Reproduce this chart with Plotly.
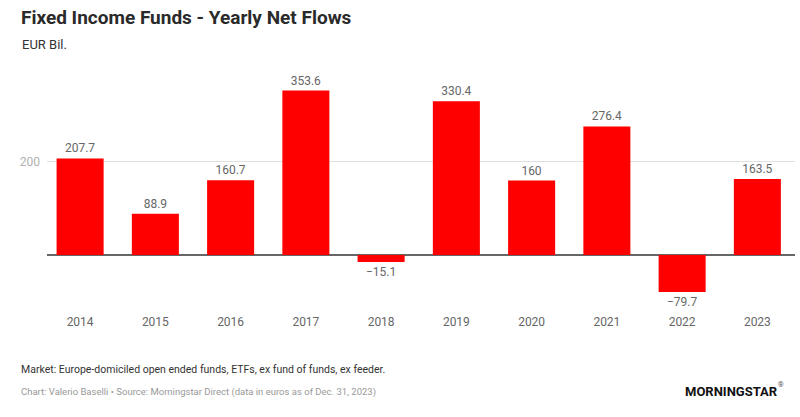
import plotly.graph_objects as go

years = ["2014", "2015", "2016", "2017", "2018", "2019", "2020", "2021", "2022", "2023"]
flows = [207.7, 88.9, 160.7, 353.6, -15.1, 330.4, 160, 276.4, -79.7, 163.5]
labels = ["207.7", "88.9", "160.7", "353.6", "\u221215.1", "330.4", "160", "276.4", "\u221279.7", "163.5"]

FONT = "Roboto, Liberation Sans Narrow, sans-serif"

W, H = 800, 417
l, r, t, b = 47, 5, 70, 104
pw, ph = W - l - r, H - t - b

def px(x, y):
    return (x - l) / pw, (H - b - y) / ph

fig = go.Figure(go.Bar(
    x=years, y=flows, text=labels, textposition="outside",
    textfont=dict(family=FONT, size=12, color="#666666"),
    marker=dict(color="#ff0000", line=dict(width=0)),
    cliponaxis=False, hoverinfo="skip",
))

def ann(text, x, y, size, color, xanchor="left"):
    ax, ay = px(x, y)
    return dict(text=text, x=ax, y=ay, xref="paper", yref="paper", showarrow=False,
                xanchor=xanchor, yanchor="middle", font=dict(family=FONT, size=size, color=color))

fig.update_layout(
    width=W, height=H,
    margin=dict(l=l, r=r, t=t, b=b),
    paper_bgcolor="white", plot_bgcolor="white",
    bargap=0.375, showlegend=False,
    font=dict(family=FONT, color="#666666"),
    xaxis=dict(range=[-0.44, 9.5], showgrid=False, showline=False, ticks="",
               tickfont=dict(family=FONT, size=12, color="#666666")),
    yaxis=dict(range=[-124.7, 397.8], tickvals=[200], ticktext=["200"],
               showgrid=True, gridcolor="#e0e0e0", gridwidth=1,
               zeroline=True, zerolinecolor="#666666", zerolinewidth=1.5,
               tickfont=dict(family=FONT, size=12, color="#b0b0b0"), ticklabelstandoff=6),
    annotations=[
        ann("<b>Fixed Income Funds - Yearly Net Flows</b>", 19, 17, 19, "#2a2a2a"),
        ann("EUR Bil.", 20, 45, 13, "#333333"),
        ann("Market: Europe-domiciled open ended funds, ETFs, ex fund of funds, ex feeder.", 19, 369, 10.5, "#333333"),
        ann("Chart: Valerio Baselli \u2022 Source: Morningstar Direct (data in euros as of Dec. 31, 2023)", 19, 392, 9.5, "#999999"),
        ann("<b>MORNINGSTAR</b>", 683, 391, 13, "#111111"),
        ann("\u00ae", 776, 385, 7, "#555555"),
    ],
)

fig.write_html("out.html", config={"displayModeBar": False},
               post_script="document.body.style.margin='0';document.body.style.padding='0';")
